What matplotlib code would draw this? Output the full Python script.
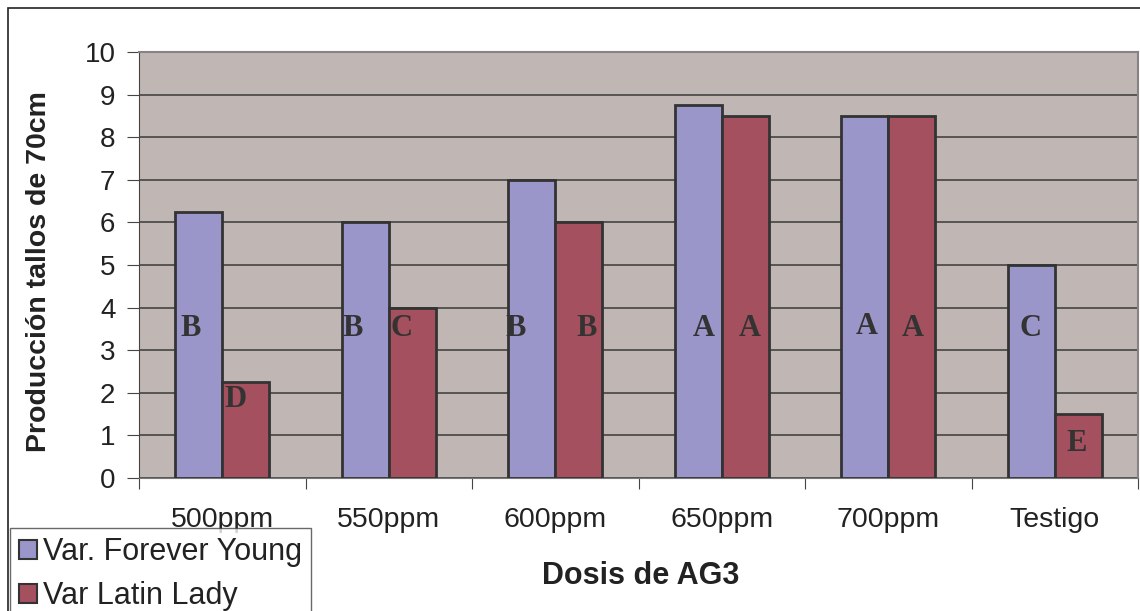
import numpy as np
from matplotlib import pyplot as plt
from matplotlib.patches import Rectangle, Patch
import matplotlib.ticker as ticker

plt.rcParams['font.family'] = ['Liberation Sans', 'DejaVu Sans']

dosis = ['500ppm', '550ppm', '600ppm', '650ppm', '700ppm', 'Testigo']
forever_young = [6.25, 6, 7, 8.75, 8.5, 5]
latin_lady = [2.25, 4, 6, 8.5, 8.5, 1.5]
letras_fy = ['B', 'B', 'B', 'A', 'A', 'C']
letras_ll = ['D', 'C', 'B', 'A', 'A', 'E']
letras_fy_y = [3.5, 3.5, 3.5, 3.5, 3.55, 3.5]
letras_ll_y = [1.85, 3.5, 3.5, 3.5, 3.5, 0.8]

# desplazamiento horizontal de cada letra respecto al centro del grupo
dx_fy = [-0.19, -0.214, -0.236, -0.108, -0.131, -0.147]
dx_ll = [0.08, 0.074, 0.19, 0.167, 0.145, 0.129]

azul = '#9B96CA'
rojo = '#A5505F'
fondo = '#C0B7B4'
borde = '#333333'


def main():
    fig = plt.figure(figsize=(11.4, 6.11), dpi=100)
    fig.patches.append(Rectangle((8 / 1140, -0.1), 1.2, 1 - 8 / 611 + 0.1,
                                 transform=fig.transFigure, fill=False,
                                 edgecolor='#222222', linewidth=1.2))
    ax = fig.add_axes([139 / 1140, 1 - 478 / 611, 999 / 1140, 426 / 611])
    ax.set_facecolor(fondo)

    x = np.arange(len(dosis))
    w = 0.282
    ax.bar(x - w / 2, forever_young, w, color=azul, edgecolor=borde,
           linewidth=2, zorder=3)
    ax.bar(x + w / 2, latin_lady, w, color=rojo, edgecolor=borde,
           linewidth=2, zorder=3)

    for i in range(len(dosis)):
        ax.text(i + dx_fy[i], letras_fy_y[i], letras_fy[i], ha='center',
                va='center', fontsize=22, fontweight='bold',
                family='Liberation Serif', color='#333333', zorder=4)
        ax.text(i + dx_ll[i], letras_ll_y[i], letras_ll[i], ha='center',
                va='center', fontsize=22, fontweight='bold',
                family='Liberation Serif', color='#333333', zorder=4)

    ax.set_xlim(-0.5, len(dosis) - 0.5)
    ax.set_ylim(0, 10)
    ax.yaxis.set_major_locator(ticker.MultipleLocator(1))
    ax.grid(axis='y', color='#444444', linewidth=1.2, zorder=1)

    # marcas en los limites de cada categoria, etiquetas en el centro
    ax.set_xticks(np.arange(-0.5, len(dosis), 1))
    ax.set_xticklabels([])
    ax.set_xticks(x, minor=True)
    ax.set_xticklabels(dosis, minor=True)
    ax.tick_params(axis='x', which='major', length=8, color='#444444')
    ax.tick_params(axis='x', which='minor', length=0, pad=21,
                   labelsize=20.5, labelcolor='#222222')
    ax.tick_params(axis='y', length=9, labelsize=20, labelcolor='#222222',
                   color='#444444', pad=8)

    for s in ['top', 'right']:
        ax.spines[s].set_color('#8a8282')
        ax.spines[s].set_linewidth(1.5)
    ax.spines['left'].set_color('#444444')
    ax.spines['bottom'].set_color('#777777')

    ax.set_ylabel('Producción tallos de 70cm', fontsize=20.5,
                  fontweight='bold', color='#222222')
    ax.yaxis.set_label_coords(-0.087, 0.484)
    fig.text(641 / 1140, 1 - 576 / 611, 'Dosis de AG3', ha='center',
             va='center', fontsize=22, fontweight='bold', color='#222222')

    handles = [Patch(facecolor=azul, edgecolor=borde, linewidth=1.5),
               Patch(facecolor=rojo, edgecolor=borde, linewidth=1.5)]
    leg = fig.legend(handles, ['Var. Forever Young', 'Var Latin Lady'],
                     loc='upper left', bbox_to_anchor=(10 / 1140, 1 - 528 / 611),
                     fontsize=22, frameon=True, fancybox=False,
                     handlelength=0.58, handleheight=0.58, handletextpad=0.2,
                     borderpad=0.3, labelspacing=0.45, borderaxespad=0)
    leg.get_frame().set_edgecolor('#444444')
    leg.get_frame().set_linewidth(1)
    for t in leg.get_texts():
        t.set_color('#222222')

    plt.savefig('out.png', dpi=100)


if __name__ == "__main__":
    main()
